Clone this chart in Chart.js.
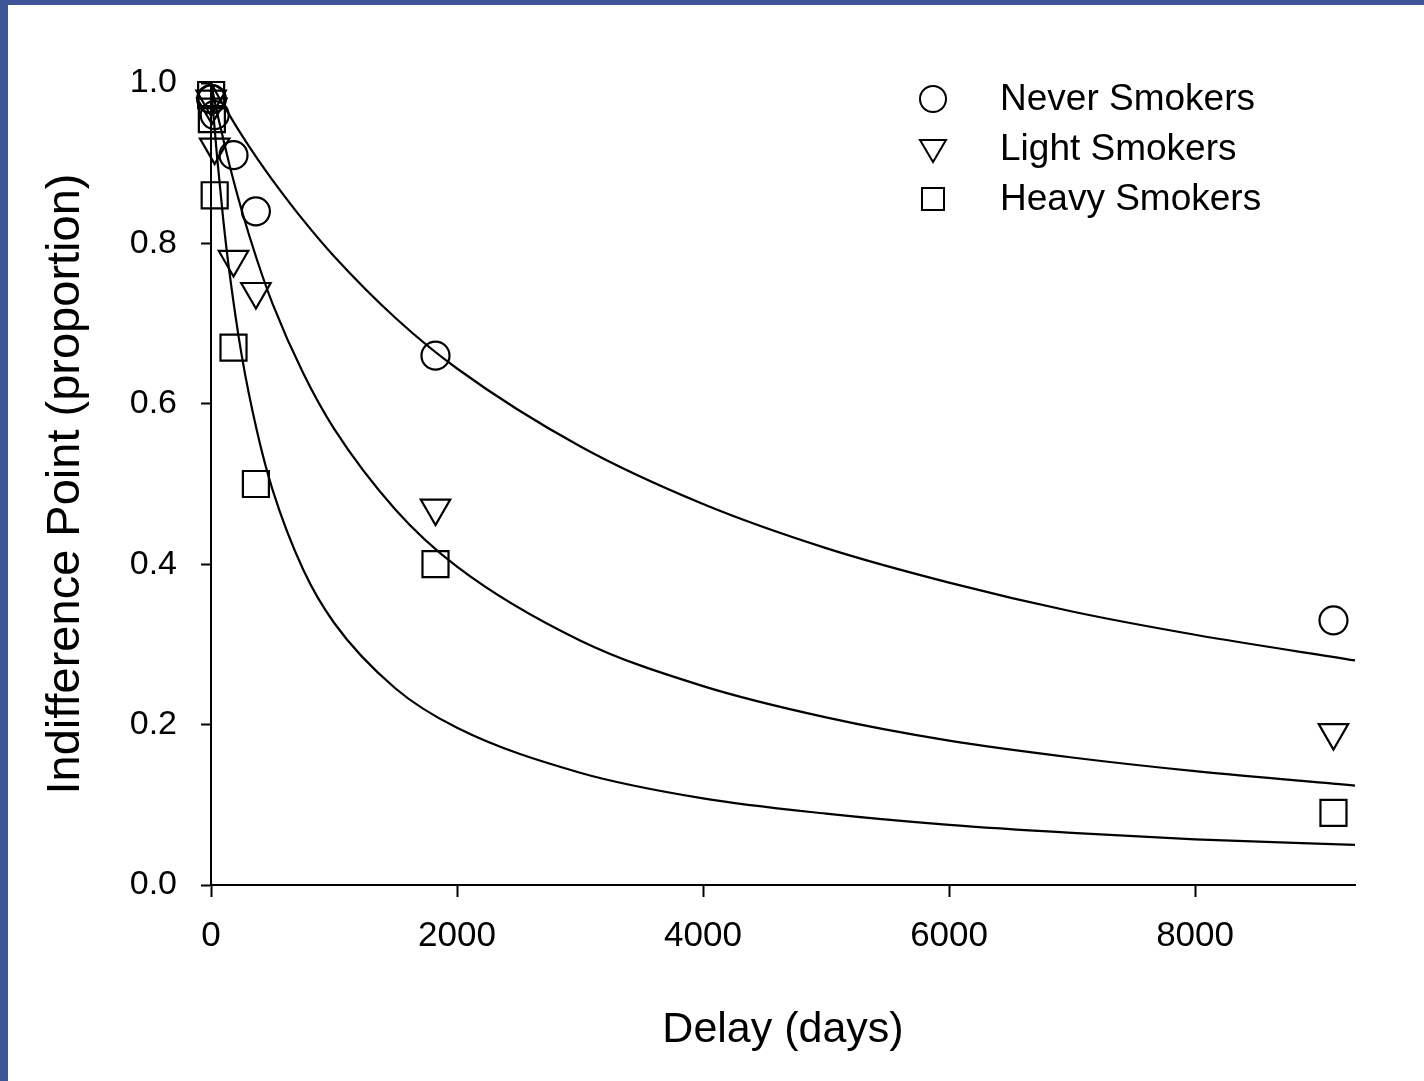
<!DOCTYPE html>
<html>
<head>
<meta charset="utf-8">
<title>Indifference points by delay</title>
<script src="https://cdn.jsdelivr.net/npm/chart.js@4.4.1/dist/chart.umd.min.js"></script>
<style>
  html, body { margin: 0; padding: 0; background: #3e5597; overflow: hidden; }
  .frame { position: absolute; left: 8px; top: 5px; width: 1416px; height: 1076px; background: #fff; }
</style>
</head>
<body>
<div class="frame"><canvas id="delayChart" width="1416" height="1076"></canvas></div>
<script>
// observed indifference points (delays in days)
const delays = [1, 7, 30, 183, 365, 1825, 9125];
const neverSmokers = [0.98, 0.98, 0.96, 0.91, 0.84, 0.66, 0.33];
const lightSmokers = [0.98, 0.97, 0.92, 0.78, 0.74, 0.47, 0.19];
const heavySmokers = [0.985, 0.955, 0.86, 0.67, 0.50, 0.40, 0.09];

// fitted discounting curves, read along the delay axis
const curveDelays = [0, 25, 50, 100, 150, 250, 375, 500, 750, 1000, 1500, 2000, 3000, 4000, 5000, 6000, 7000, 8000, 9300];
const neverCurve = [1, 0.993, 0.986, 0.973, 0.960, 0.935, 0.906, 0.879, 0.829, 0.784, 0.707, 0.644, 0.547, 0.475, 0.420, 0.377, 0.341, 0.312, 0.280];
const lightCurve = [1, 0.981, 0.963, 0.930, 0.898, 0.841, 0.779, 0.725, 0.638, 0.569, 0.468, 0.397, 0.305, 0.248, 0.209, 0.180, 0.159, 0.142, 0.124];
const heavyCurve = [1, 0.951, 0.907, 0.829, 0.764, 0.660, 0.565, 0.493, 0.393, 0.327, 0.245, 0.196, 0.140, 0.108, 0.089, 0.075, 0.065, 0.057, 0.050];

const groupNames = ["Never Smokers", "Light Smokers", "Heavy Smokers"];
const xTicks = [0, 2000, 4000, 6000, 8000];
const yTicks = [0, 0.2, 0.4, 0.6, 0.8, 1.0];

const toXY = (xs, ys) => xs.map((x, i) => ({ x: x, y: ys[i] }));

const curve = (ys) => ({
  type: "line",
  data: toXY(curveDelays, ys),
  borderColor: "#000",
  borderWidth: 2.2,
  pointRadius: 0,
  cubicInterpolationMode: "monotone",
  fill: false,
});

const markers = (label, ys, style, radius, rotation) => ({
  type: "scatter",
  label: label,
  data: toXY(delays, ys),
  pointStyle: style,
  pointRadius: radius,
  pointRotation: rotation || 0,
  pointBorderColor: "#000",
  pointBackgroundColor: "rgba(0,0,0,0)",
  pointBorderWidth: 2.2,
  showLine: false,
});

// legend in the upper right of the plot
const cornerLegend = {
  id: "cornerLegend",
  afterDraw(chart) {
    const ctx = chart.ctx;
    const area = chart.chartArea;
    const mx = area.left + 722;
    const tx = area.left + 789;
    const rows = [area.top + 16, area.top + 66, area.top + 116];
    ctx.save();
    ctx.strokeStyle = "#000";
    ctx.lineWidth = 2;
    // circle
    ctx.beginPath();
    ctx.arc(mx, rows[0], 13, 0, Math.PI * 2);
    ctx.stroke();
    // down triangle
    ctx.beginPath();
    ctx.moveTo(mx - 13, rows[1] - 9);
    ctx.lineTo(mx + 13, rows[1] - 9);
    ctx.lineTo(mx, rows[1] + 13);
    ctx.closePath();
    ctx.stroke();
    // square
    ctx.strokeRect(mx - 11, rows[2] - 11, 22, 22);
    ctx.fillStyle = "#000";
    ctx.font = "37px 'Liberation Sans'";
    ctx.textBaseline = "middle";
    groupNames.forEach((name, i) => ctx.fillText(name, tx, rows[i] + 1));
    ctx.restore();
  },
};

Chart.defaults.font.family = "'Liberation Sans', Arial, sans-serif";
Chart.defaults.color = "#000";

new Chart(document.getElementById("delayChart"), {
  data: {
    datasets: [
      curve(neverCurve),
      curve(lightCurve),
      curve(heavyCurve),
      markers(groupNames[0], neverSmokers, "circle", 14),
      markers(groupNames[1], lightSmokers, "triangle", 17, 180),
      markers(groupNames[2], heavySmokers, "rect", 18.4),
    ],
  },
  options: {
    responsive: false,
    animation: false,
    clip: false,
    layout: { padding: { top: 78, right: 69, left: 0, bottom: 0 } },
    plugins: {
      legend: { display: false },
      tooltip: { enabled: false },
    },
    scales: {
      x: {
        type: "linear",
        min: 0,
        max: 9300,
        afterFit: (s) => { s.height = 196; },
        afterBuildTicks: (s) => { s.ticks = xTicks.map((v) => ({ value: v })); },
        ticks: {
          font: { size: 35 },
          padding: 18,
          maxRotation: 0,
          callback: (v) => String(v),
        },
        grid: { drawOnChartArea: false, drawTicks: true, tickLength: 12, tickColor: "#000", tickWidth: 2 },
        border: { display: true, color: "#000", width: 2 },
        title: {
          display: true,
          text: "Delay (days)",
          font: { size: 43 },
          padding: { top: 0, bottom: 25 },
        },
      },
      y: {
        type: "linear",
        min: 0,
        max: 1,
        afterFit: (s) => { s.width = 203; },
        afterBuildTicks: (s) => { s.ticks = yTicks.map((v) => ({ value: v })); },
        ticks: {
          font: { size: 34 },
          padding: 24,
          callback: (v) => v.toFixed(1),
        },
        grid: { drawOnChartArea: false, drawTicks: true, tickLength: 10, tickColor: "#000", tickWidth: 2 },
        border: { display: true, color: "#000", width: 2 },
        title: {
          display: true,
          text: "Indifference Point (proportion)",
          font: { size: 47 },
          padding: { top: 30, bottom: 0 },
        },
      },
    },
  },
  plugins: [cornerLegend],
});
</script>
</body>
</html>
